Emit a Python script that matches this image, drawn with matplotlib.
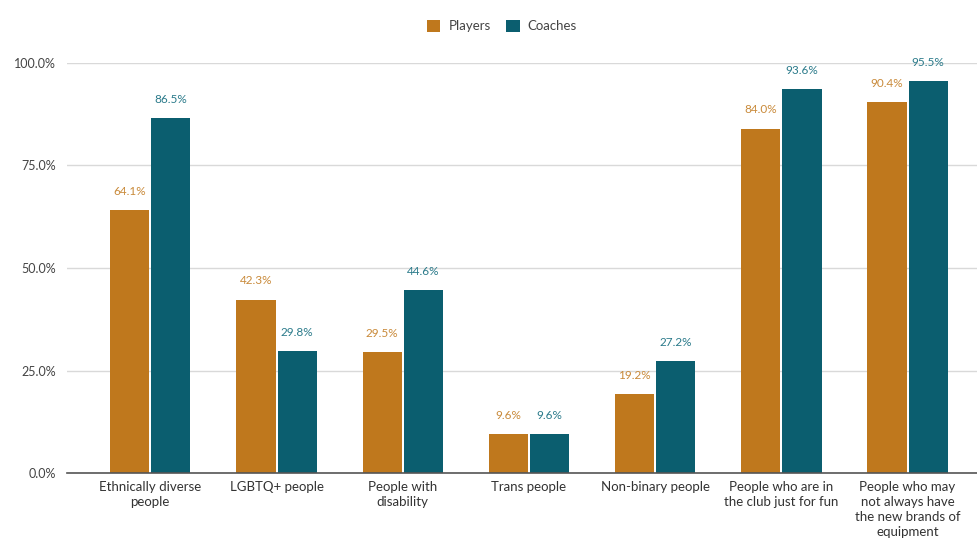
import matplotlib.pyplot as plt
import numpy as np

categories = ["Ethnically diverse\npeople", "LGBTQ+ people", "People with\ndisability",
              "Trans people", "Non-binary people", "People who are in\nthe club just for fun",
              "People who may\nnot always have\nthe new brands of\nequipment"]
players = [64.1, 42.3, 29.5, 9.6, 19.2, 84.0, 90.4]
coaches = [86.5, 29.8, 44.6, 9.6, 27.2, 93.6, 95.5]
yticks = [0, 25, 50, 75, 100]

plt.rcParams['font.family'] = ['Lato', 'DejaVu Sans']

c_players = "#BF781D"
c_coaches = "#0B5E6F"

fig = plt.figure(figsize=(9.77, 5.41), dpi=100)
ax = fig.add_axes([67 / 977, 68 / 541, 910 / 977, 410 / 541])

x = np.arange(len(categories))
w = 0.31
gap = 0.008
b1 = ax.bar(x - w / 2 - gap, players, w, color=c_players, label="Players", zorder=3)
b2 = ax.bar(x + w / 2 + gap, coaches, w, color=c_coaches, label="Coaches", zorder=3)

for xi, v in zip(x - w / 2 - gap, players):
    ax.text(xi, v + 3.2, f"{v:.1f}%", ha="center", va="bottom", fontsize=8.5,
            color="#C98A3A", clip_on=False)
for xi, v in zip(x + w / 2 + gap, coaches):
    ax.text(xi, v + 3.2, f"{v:.1f}%", ha="center", va="bottom", fontsize=8.5,
            color="#2A7A8A", clip_on=False)

ax.set_xlim(-0.66, 6.55)
ax.set_ylim(0, 100)
ax.set_yticks(yticks)
ax.set_yticklabels([f"{t:.1f}%" for t in yticks], fontsize=9, color="#444444")
ax.set_xticks(x)
ax.set_xticklabels(categories, fontsize=9.5, color="#333333", linespacing=1.3)
ax.tick_params(axis="both", length=0, pad=6)
ax.tick_params(axis="y", pad=8)

ax.grid(axis="y", color="#D9D9D9", linewidth=1, zorder=0)
for s in ["top", "right", "left"]:
    ax.spines[s].set_visible(False)
ax.spines["bottom"].set_color("#555555")
ax.spines["bottom"].set_linewidth(1.2)
ax.spines["bottom"].set_zorder(4)

fig.legend(handles=[b1, b2], loc="center", bbox_to_anchor=(502 / 977, 1 - 26 / 541),
           ncol=2, frameon=False, fontsize=9.5, handlelength=1.0, handleheight=1.0,
           columnspacing=1.2, handletextpad=0.6, labelcolor="#444444")

fig.savefig("out.png", dpi=100)
